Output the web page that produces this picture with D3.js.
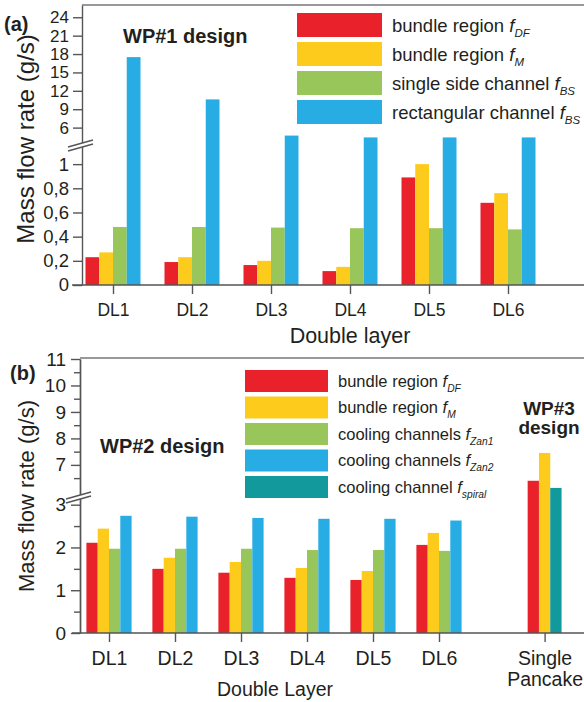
<!DOCTYPE html>
<html>
<head>
<meta charset="utf-8">
<script src="https://cdn.jsdelivr.net/npm/d3@7"></script>
<style>
  body { margin: 0; background: #fff; }
  svg { display: block; font-family: Arial, "Liberation Sans", sans-serif; }
</style>
</head>
<body>
<svg id="chart" width="584" height="702"></svg>
<script>
// ---- panel (a): WP#1 design ----
var catsA = ["DL1", "DL2", "DL3", "DL4", "DL5", "DL6"];
var fDF_A = [0.23, 0.19, 0.165, 0.115, 0.89, 0.68];
var fM_A = [0.27, 0.23, 0.20, 0.15, 1.0, 0.76];
var fBSside_A = [0.48, 0.48, 0.475, 0.47, 0.47, 0.46];
var fBSrect_A = [17.5, 10.6, 4.7, 4.4, 4.4, 4.4];
var lowTicksA = [0, 0.2, 0.4, 0.6, 0.8, 1];
var highTicksA = [6, 9, 12, 15, 18, 21, 24];
var legendA = [["bundle region ", "DF"], ["bundle region ", "M"], ["single side channel ", "BS"], ["rectangular channel ", "BS"]];

// ---- panel (b): WP#2 / WP#3 design ----
var catsB = ["DL1", "DL2", "DL3", "DL4", "DL5", "DL6", "Single Pancake"];
var fDF_B = [2.11, 1.50, 1.41, 1.29, 1.24, 2.06, 6.4];
var fM_B = [2.44, 1.76, 1.66, 1.52, 1.45, 2.34, 7.45];
var fZan1_B = [1.97, 1.97, 1.97, 1.94, 1.94, 1.92, null];
var fZan2_B = [2.74, 2.72, 2.69, 2.67, 2.67, 2.63, null];
var fSpiral_B = [null, null, null, null, null, null, 6.13];
var lowTicksB = [0, 1, 2, 3];
var lowMinorB = [0.5, 1.5, 2.5];
var highTicksB = [7, 8, 9, 10, 11];
var highMinorB = [6.5, 7.5, 8.5, 9.5, 10.5];
var legendB = [["bundle region ", "DF"], ["bundle region ", "M"], ["cooling channels ", "Zan1"], ["cooling channels ", "Zan2"], ["cooling channel ", "spiral"]];

var red = "#e8212b", yellow = "#fdcb1c", green = "#98c65b", blue = "#27ade3", teal = "#12999b";
var axisCol = "#555", textCol = "#231f20";

var svg = d3.select("#chart");

// broken axis helper: lower and upper linear pieces
function broken(low, high, cut) {
  return function (v) { return v <= cut ? low(v) : high(v); };
}

function drawBreak(x, y) {
  var g = svg.append("g");
  g.append("polygon")
    .attr("points", [[x - 13, y + 1], [x + 11, y - 6], [x + 11, y - 2], [x - 13, y + 5]].join(" "))
    .attr("fill", "#fff");
  g.append("line").attr("x1", x - 14).attr("y1", y + 1).attr("x2", x + 11).attr("y2", y - 6)
    .attr("stroke", axisCol).attr("stroke-width", 1.3);
  g.append("line").attr("x1", x - 14).attr("y1", y + 5).attr("x2", x + 11).attr("y2", y - 2)
    .attr("stroke", axisCol).attr("stroke-width", 1.3);
}

function styleAxis(g, fs) {
  g.attr("font-family", null).attr("font-size", null);
  g.selectAll("path,line").attr("stroke", axisCol).attr("stroke-width", 1.4);
  g.selectAll("text").attr("fill", textCol).style("font-size", fs + "px");
}

function legend(items, colors, x0, y0, step, bw, bh, fs) {
  items.forEach(function (it, i) {
    var y = y0 + i * step;
    svg.append("rect").attr("x", x0).attr("y", y).attr("width", bw).attr("height", bh).attr("fill", colors[i]);
    var t = svg.append("text").attr("x", x0 + bw + 10).attr("y", y + bh / 2 + fs * 0.36)
      .attr("fill", textCol).style("font-size", fs + "px");
    t.append("tspan").text(it[0]);
    t.append("tspan").attr("font-style", "italic").text("f");
    t.append("tspan").attr("font-style", "italic").attr("dy", fs * 0.3)
      .style("font-size", (fs * 0.62) + "px").text(it[1]);
  });
}

// ================= panel (a) =================
var axA = 82, baseA = 285, topA = 5;
var yAlow = d3.scaleLinear().domain([0, 1.15]).range([baseA, 146]);
var yAhigh = d3.scaleLinear().domain([3, 26]).range([146, topA]);
var yA = broken(yAlow, yAhigh, 1.15);
var xA = d3.scalePoint().domain(catsA).range([113, 508]);
var seriesA = [fDF_A, fM_A, fBSside_A, fBSrect_A];
var colorsA = [red, yellow, green, blue];
var bwA = 13.75;

// frame top
svg.append("line").attr("x1", axA).attr("x2", 584).attr("y1", topA).attr("y2", topA)
  .attr("stroke", "#777").attr("stroke-width", 1.5);

catsA.forEach(function (c, i) {
  var n = seriesA.length;
  seriesA.forEach(function (s, j) {
    svg.append("rect")
      .attr("x", xA(c) + (j - n / 2) * bwA)
      .attr("y", yA(s[i]))
      .attr("width", bwA)
      .attr("height", baseA - yA(s[i]))
      .attr("fill", colorsA[j]);
  });
});

svg.append("g").attr("transform", "translate(" + axA + ",0)")
  .call(d3.axisLeft(yAlow).tickValues(lowTicksA).tickSize(9).tickSizeOuter(0).tickPadding(4)
    .tickFormat(function (d) { return String(d).replace(".", ","); }))
  .call(styleAxis, 18.5);
svg.append("g").attr("transform", "translate(" + axA + ",0)")
  .call(d3.axisLeft(yAhigh).tickValues(highTicksA).tickSize(9).tickSizeOuter(0).tickPadding(4))
  .call(styleAxis, 17);

var gxA = svg.append("g").attr("transform", "translate(0," + baseA + ")")
  .call(d3.axisBottom(xA).tickSize(9).tickPadding(10))
  .call(styleAxis, 17.5);
gxA.select(".domain").remove();
svg.append("line").attr("x1", 72).attr("x2", 584).attr("y1", baseA).attr("y2", baseA)
  .attr("stroke", axisCol).attr("stroke-width", 1.4);

drawBreak(axA, 146);

svg.append("text").attr("transform", "translate(34,139) rotate(-90)").attr("text-anchor", "middle")
  .attr("fill", textCol).style("font-size", "24px").text("Mass flow rate (g/s)");
svg.append("text").attr("x", 350).attr("y", 343).attr("text-anchor", "middle")
  .attr("fill", textCol).style("font-size", "21.5px").text("Double layer");
svg.append("text").attr("x", 4).attr("y", 31).attr("font-weight", "bold")
  .attr("fill", textCol).style("font-size", "20px").text("(a)");
svg.append("text").attr("x", 123).attr("y", 43).attr("font-weight", "bold")
  .attr("fill", textCol).style("font-size", "20px").text("WP#1 design");

legend(legendA, colorsA, 297, 13, 29, 85, 24, 18.5);

// ================= panel (b) =================
var axB = 80, baseB = 633, topB = 358;
var yBlow = d3.scaleLinear().domain([0, 3.25]).range([baseB, 494]);
var yBhigh = d3.scaleLinear().domain([5.9, 11]).range([494, 359]);
var yB = broken(yBlow, yBhigh, 3.25);
// DL1..DL6 evenly spaced, single pancake set apart
var xBlin = d3.scaleLinear().domain([0, 5]).range([109, 439]);
function xB(i) { return xBlin(i < 6 ? i : 6.6); }
var seriesB = [fDF_B, fM_B, fZan1_B, fZan2_B, fSpiral_B];
var colorsB = [red, yellow, green, blue, teal];
var bwB = 11.3;

svg.append("line").attr("x1", axB).attr("x2", 584).attr("y1", topB).attr("y2", topB)
  .attr("stroke", "#777").attr("stroke-width", 1.5);

catsB.forEach(function (c, i) {
  var present = [];
  seriesB.forEach(function (s, j) { if (s[i] != null) present.push(j); });
  var n = present.length;
  present.forEach(function (j, k) {
    var v = seriesB[j][i];
    svg.append("rect")
      .attr("x", xB(i) + (k - n / 2) * bwB)
      .attr("y", yB(v))
      .attr("width", bwB)
      .attr("height", baseB - yB(v))
      .attr("fill", colorsB[j]);
  });
});

var intFmt = d3.format("d");
svg.append("g").attr("transform", "translate(" + axB + ",0)")
  .call(d3.axisLeft(yBlow).tickValues(lowTicksB).tickSize(9).tickSizeOuter(0).tickPadding(5).tickFormat(intFmt))
  .call(styleAxis, 19);
svg.append("g").attr("transform", "translate(" + axB + ",0)")
  .call(d3.axisLeft(yBlow).tickValues(lowMinorB).tickSize(6).tickSizeOuter(0).tickFormat(""))
  .call(styleAxis, 19);
svg.append("g").attr("transform", "translate(" + axB + ",0)")
  .call(d3.axisLeft(yBhigh).tickValues(highTicksB).tickSize(9).tickSizeOuter(0).tickPadding(5).tickFormat(intFmt))
  .call(styleAxis, 19);
svg.append("g").attr("transform", "translate(" + axB + ",0)")
  .call(d3.axisLeft(yBhigh).tickValues(highMinorB).tickSize(6).tickSizeOuter(0).tickFormat(""))
  .call(styleAxis, 19);

var xBband = d3.scaleOrdinal().domain(catsB).range(catsB.map(function (c, i) { return xB(i); }));
var gxB = svg.append("g").attr("transform", "translate(0," + baseB + ")")
  .call(d3.axisBottom(xBband).tickSize(9).tickPadding(9))
  .call(styleAxis, 19.5);
gxB.select(".domain").remove();
gxB.selectAll(".tick text").each(function (d) {
  var words = d.split(" ");
  if (words.length > 1) {
    var t = d3.select(this).text(null);
    words.forEach(function (w, k) {
      t.append("tspan").attr("x", 0).attr("dy", k === 0 ? "0.71em" : "1.08em").text(w);
    });
  }
});
svg.append("line").attr("x1", 72).attr("x2", 584).attr("y1", baseB).attr("y2", baseB)
  .attr("stroke", axisCol).attr("stroke-width", 1.4);

drawBreak(axB, 498);

svg.append("text").attr("transform", "translate(34,496) rotate(-90)").attr("text-anchor", "middle")
  .attr("fill", textCol).style("font-size", "22px").text("Mass flow rate (g/s)");
svg.append("text").attr("x", 275).attr("y", 696).attr("text-anchor", "middle")
  .attr("fill", textCol).style("font-size", "19.5px").text("Double Layer");
svg.append("text").attr("x", 10).attr("y", 380).attr("font-weight", "bold")
  .attr("fill", textCol).style("font-size", "20px").text("(b)");
svg.append("text").attr("x", 100).attr("y", 453).attr("font-weight", "bold")
  .attr("fill", textCol).style("font-size", "20px").text("WP#2 design");
svg.append("text").attr("x", 549).attr("y", 415).attr("text-anchor", "middle").attr("font-weight", "bold")
  .attr("fill", textCol).style("font-size", "19px").text("WP#3");
svg.append("text").attr("x", 549).attr("y", 434).attr("text-anchor", "middle").attr("font-weight", "bold")
  .attr("fill", textCol).style("font-size", "19px").text("design");

legend(legendB, colorsB, 245, 370, 26.5, 83, 22, 16.5);
</script>
</body>
</html>
